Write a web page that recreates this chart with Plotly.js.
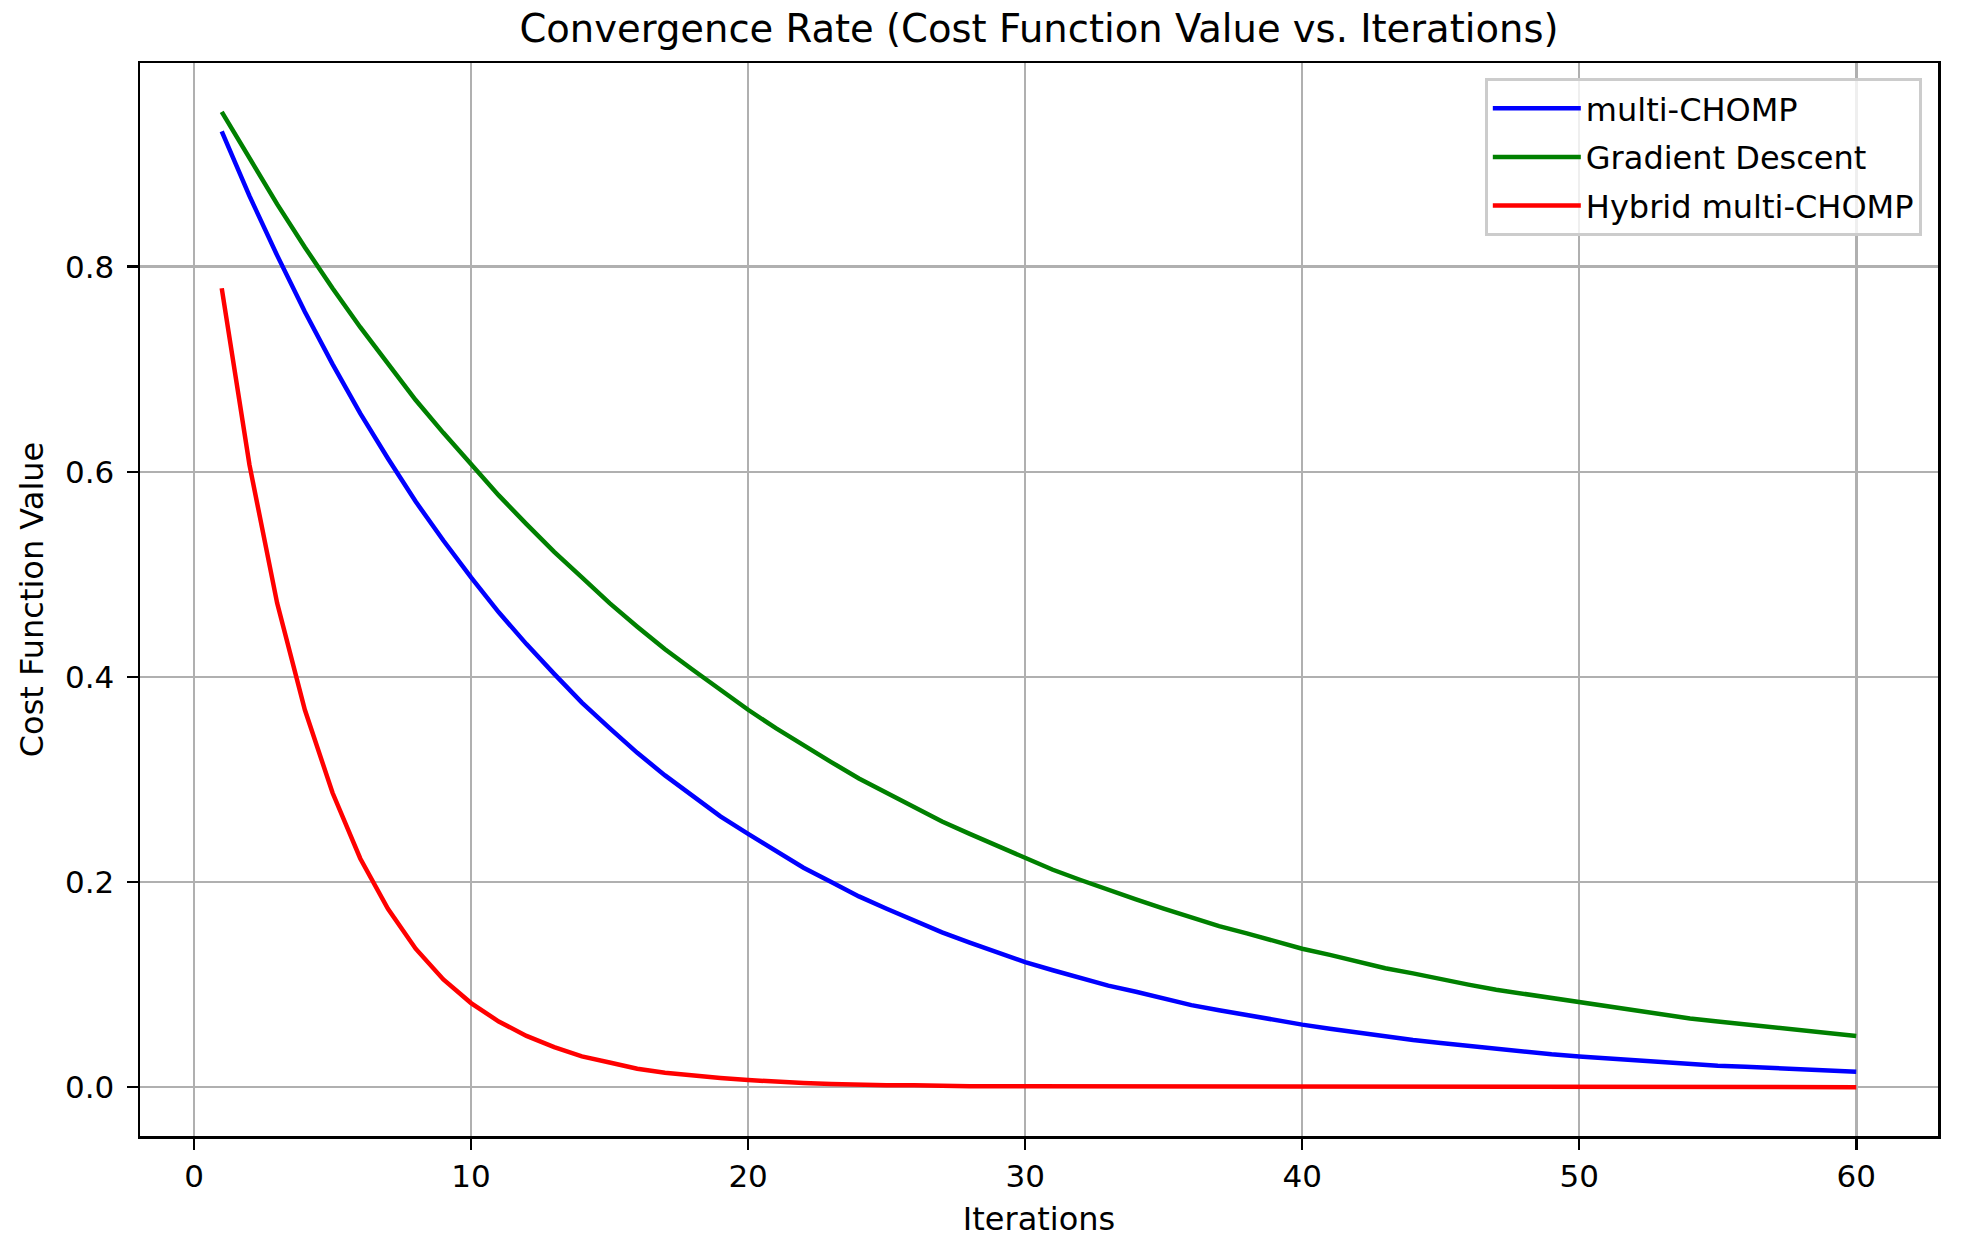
<!DOCTYPE html>
<html>
<head>
<meta charset="utf-8">
<script src="https://cdn.plot.ly/plotly-3.0.1.min.js"></script>
<style>
  html, body { margin: 0; padding: 0; background: #ffffff; }
  #chart { width: 1963px; height: 1253px; }
</style>
</head>
<body>
<div id="chart"></div>
<script>
const iterations = [1,2,3,4,5,6,7,8,9,10,11,12,13,14,15,16,17,18,19,20,
  21,22,23,24,25,26,27,28,29,30,31,32,33,34,35,36,37,38,39,40,
  41,42,43,44,45,46,47,48,49,50,51,52,53,54,55,56,57,58,59,60];

const multiChomp = [0.932,0.869,0.811,0.756,0.705,0.657,0.613,0.571,0.533,0.497,
  0.463,0.432,0.403,0.375,0.350,0.326,0.304,0.284,0.264,0.247,
  0.230,0.214,0.200,0.186,0.174,0.162,0.151,0.141,0.131,0.122,
  0.114,0.106,0.099,0.093,0.086,0.080,0.075,0.070,0.065,0.061,
  0.057,0.053,0.049,0.046,0.043,0.040,0.037,0.035,0.032,0.030,
  0.028,0.026,0.024,0.023,0.021,0.020,0.019,0.017,0.016,0.015];

const gradientDescent = [0.951,0.905,0.861,0.819,0.779,0.741,0.705,0.670,0.638,0.607,
  0.577,0.549,0.522,0.497,0.472,0.449,0.427,0.407,0.387,0.368,
  0.350,0.333,0.317,0.301,0.287,0.273,0.259,0.247,0.235,0.223,
  0.212,0.202,0.192,0.183,0.174,0.165,0.157,0.150,0.142,0.135,
  0.129,0.122,0.116,0.111,0.105,0.100,0.095,0.091,0.086,0.082,
  0.078,0.074,0.071,0.067,0.064,0.061,0.058,0.055,0.052,0.050];

const hybridMultiChomp = [0.779,0.607,0.472,0.368,0.287,0.223,0.174,0.135,0.105,0.082,
  0.064,0.050,0.039,0.030,0.024,0.018,0.014,0.011,0.009,0.007,
  0.005,0.004,0.003,0.002,0.002,0.002,0.001,0.001,0.001,0.001,
  0.000,0.000,0.000,0.000,0.000,0.000,0.000,0.000,0.000,0.000,
  0.000,0.000,0.000,0.000,0.000,0.000,0.000,0.000,0.000,0.000,
  0.000,0.000,0.000,0.000,0.000,0.000,0.000,0.000,0.000,0.000];

const xTicks = [0,10,20,30,40,50,60];
const yTicks = [0.0,0.2,0.4,0.6,0.8];
const yTickLabels = ['0.0','0.2','0.4','0.6','0.8'];

const FONT = 'DejaVu Sans, Liberation Sans, sans-serif';
const FS = 31;
const FS_LABEL = 32;

const traces = [
  {x: iterations, y: multiChomp, name: 'multi-CHOMP', legendgroup: 'a',
   type: 'scatter', mode: 'lines', line: {color: '#0000ff', width: 4.5}},
  {x: iterations, y: gradientDescent, name: 'Gradient Descent', legendgroup: 'b',
   type: 'scatter', mode: 'lines', line: {color: '#008000', width: 4.5}},
  {x: iterations, y: hybridMultiChomp, name: 'Hybrid multi-CHOMP', legendgroup: 'c',
   type: 'scatter', mode: 'lines', line: {color: '#ff0000', width: 4.5}}
];

const axisCommon = {
  showline: true, linecolor: '#000000', linewidth: 2.5, mirror: true,
  showgrid: true, gridcolor: '#b0b0b0', gridwidth: 2.5,
  zeroline: false,
  ticks: 'outside', ticklen: 11, tickwidth: 2.5, tickcolor: '#000000',
  tickfont: {family: FONT, size: FS, color: '#000000'}
};

const layout = {
  width: 1963, height: 1253,
  paper_bgcolor: '#ffffff', plot_bgcolor: '#ffffff',
  margin: {l: 140, r: 25, t: 63, b: 117, pad: 0},
  font: {family: FONT, color: '#000000'},
  title: {text: 'Convergence Rate (Cost Function Value vs. Iterations)',
    font: {family: FONT, size: 38.5, color: '#000000'},
    x: 0.5, xref: 'paper', xanchor: 'center',
    y: 0.977, yref: 'container', yanchor: 'middle'},
  xaxis: Object.assign({}, axisCommon, {
    range: [-1.95, 62.95], tickmode: 'array', tickvals: xTicks,
    ticktext: xTicks.map(String), ticklabelstandoff: 0,
    title: {text: 'Iterations', font: {family: FONT, size: FS_LABEL, color: '#000000'}, standoff: 15}
  }),
  yaxis: Object.assign({}, axisCommon, {
    range: [-0.0476, 0.9986], tickmode: 'array', tickvals: yTicks,
    ticktext: yTickLabels, ticklabelstandoff: 6,
    title: {text: 'Cost Function Value', font: {family: FONT, size: FS_LABEL, color: '#000000'}, standoff: 12}
  }),
  showlegend: true,
  legend: {
    x: 0.991, y: 0.986, xanchor: 'right', yanchor: 'top',
    bgcolor: 'rgba(255,255,255,0.8)', bordercolor: '#cccccc', borderwidth: 3,
    font: {family: FONT, size: FS_LABEL, color: '#000000'},
    itemwidth: 88, traceorder: 'grouped', tracegroupgap: 4
  }
};

Plotly.newPlot('chart', traces, layout, {staticPlot: true, displayModeBar: false});
</script>
</body>
</html>
